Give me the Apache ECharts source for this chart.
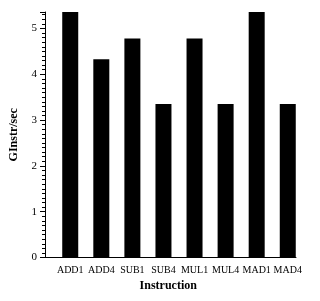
<!DOCTYPE html>
<html><head><meta charset="utf-8">
<script src="https://cdn.jsdelivr.net/npm/echarts@6/dist/echarts.min.js"></script>
<style>html,body{margin:0;padding:0;background:#fff}#c{width:320px;height:301px}</style>
</head><body><div id="c"></div>
<script>
const categories = ['ADD1','ADD4','SUB1','SUB4','MUL1','MUL4','MAD1','MAD4'];
const values = [5.36, 4.33, 4.78, 3.35, 4.78, 3.35, 5.36, 3.35];
const yTicks = [0, 1, 2, 3, 4, 5];
const yMax = 5.36;

const font = 'Liberation Serif';
const chart = echarts.init(document.getElementById('c'), null, {renderer: 'canvas'});
chart.setOption({
  animation: false,
  backgroundColor: '#fff',
  grid: [
    {left: 50.2, right: 16.7, top: 12, bottom: 43.5},
    {left: 40.5, right: 24, top: 12, bottom: 43.5}
  ],
  xAxis: [
    {type: 'category', gridIndex: 0, data: categories, boundaryGap: true,
     axisLine: {show: false}, axisTick: {show: false},
     axisLabel: {interval: 0, margin: 8, color: '#000', fontFamily: font, fontSize: 10}},
    {type: 'value', gridIndex: 1, min: 0, max: 1,
     axisLine: {show: true, lineStyle: {color: '#000', width: 1}},
     axisTick: {show: false}, axisLabel: {show: false}, splitLine: {show: false},
     name: 'Instruction', nameLocation: 'middle', nameGap: 22,
     nameTextStyle: {fontFamily: font, fontSize: 12, fontWeight: 'bold', color: '#000'}}
  ],
  yAxis: [
    {type: 'value', gridIndex: 0, min: 0, max: yMax, interval: 1, offset: 9.7,
     axisLine: {show: true, lineStyle: {color: '#000', width: 1}},
     axisTick: {show: true, length: 5, lineStyle: {color: '#000'}},
     minorTick: {show: true, splitNumber: 10, length: 3, lineStyle: {color: '#000'}},
     splitLine: {show: false},
     axisLabel: {color: '#000', fontFamily: font, fontSize: 11, margin: 8, showMaxLabel: false,
       formatter: v => yTicks.includes(v) ? String(v) : ''},
     name: 'GInstr/sec', nameLocation: 'middle', nameGap: 25,
     nameTextStyle: {fontFamily: font, fontSize: 12, fontWeight: 'bold', color: '#000'}},
    {type: 'value', gridIndex: 1, min: 0, max: yMax, show: false}
  ],
  series: [{
    type: 'bar', xAxisIndex: 0, yAxisIndex: 0, data: values, barWidth: 16,
    itemStyle: {color: '#000'}
  }]
});
</script></body></html>
